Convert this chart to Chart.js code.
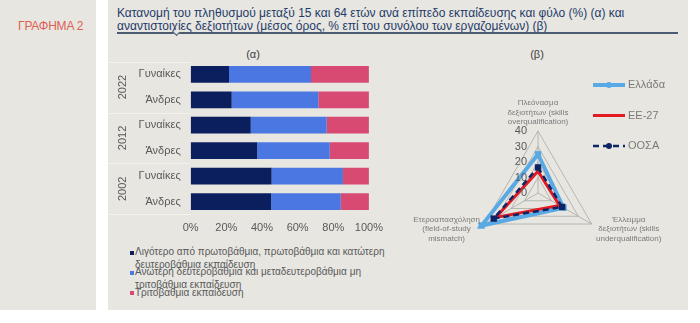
<!DOCTYPE html>
<html>
<head>
<meta charset="utf-8">
<script src="https://cdn.jsdelivr.net/npm/chart.js@4.4.1/dist/chart.umd.min.js"></script>
<style>
  body { margin: 0; width: 700px; height: 323px; background: #fff; position: relative; overflow: hidden;
         font-family: 'Liberation Sans', Arial, sans-serif; }
  .panel { position: absolute; top: 0; height: 310px; background: #e7e6e1; }
  .tag { position: absolute; left: 18px; top: 19px; font-size: 12px; color: #df5f52; letter-spacing: -0.2px; }
  .title { position: absolute; left: 117px; top: 7px; font-size: 12px; line-height: 13.4px; color: #1f3b69; white-space: nowrap; }
  .rule { position: absolute; left: 117px; top: 32px; width: 561px; border-top: 2px solid #4b5b72; }
  .notch { position: absolute; left: 174px; top: 30px; width: 4px; height: 4px; border-right: 1.5px solid #4b5b72;
           border-bottom: 1.5px solid #4b5b72; transform: rotate(45deg); background: #e7e6e1; }
  .sub { position: absolute; top: 48px; font-size: 11px; color: #404040; transform: translateX(-50%); }
  canvas { position: absolute; }
  #barLegend { position: absolute; left: 130px; top: 246px; width: 260px; }
  .item { position: absolute; left: 0; width: 256px; font-size: 10px; line-height: 12.6px; color: #595959; padding-left: 5px; }
  .item i { position: absolute; left: 0; top: 4.5px; width: 4px; height: 4px; }
</style>
</head>
<body>
<div class="panel" style="left:0;width:96px"></div>
<div class="panel" style="left:108px;width:580px"></div>
<div class="tag">ΓΡΑΦΗΜΑ 2</div>
<div class="title">Κατανομή του πληθυσμού μεταξύ 15 και 64 ετών ανά επίπεδο εκπαίδευσης και φύλο (%) (α) και<br>αναντιστοιχίες δεξιοτήτων (μέσος όρος, % επί του συνόλου των εργαζομένων) (β)</div>
<div class="rule"></div>
<div class="notch"></div>
<div class="sub" style="left:253px">(α)</div>
<div class="sub" style="left:537px">(β)</div>

<canvas id="bars" width="283" height="200" style="left:107px;top:45px"></canvas>
<div id="barLegend"></div>
<canvas id="radar" width="295" height="262" style="left:395px;top:45px"></canvas>

<script>
// (α) population 15-64 by education level and sex, %
const years = ['2022', '2012', '2002'];
const sexes = ['Γυναίκες', 'Άνδρες'];
const eduLevels = [
  'Λιγότερο από πρωτοβάθμια, πρωτοβάθμια και κατώτερη δευτεροβάθμια εκπαίδευση',
  'Ανώτερη δευτεροβάθμια και μεταδευτεροβάθμια μη τριτοβάθμια εκπαίδευση',
  'Τριτοβάθμια εκπαίδευση'
];
const lowEdu = [21.5, 23.0, 33.7, 37.3, 45.4, 45.1];
const midEdu = [46.0, 48.6, 42.6, 40.7, 40.0, 39.1];
const highEdu = [32.5, 28.4, 23.7, 22.0, 14.6, 15.8];
const pctTicks = [0, 20, 40, 60, 80, 100];

// (β) skills mismatch, average % of employed
const mismatchAxes = [
  ['Πλεόνασμα', 'δεξιοτήτων (skills', 'overqualification)'],
  ['Έλλειμμα', 'δεξιοτήτων (skills', 'underqualification)'],
  ['Ετεροαπασχόληση', '(field-of-study', 'mismatch)']
];
const mismatchTicks = [0, 10, 20, 30, 40];
const regions = ['Ελλάδα', 'ΕΕ-27', 'ΟΟΣΑ'];
const greece = [25, 19, 42];
const eu27 = [14, 16, 31.5];
const oecd = [16.5, 18, 33];

const FONT = "'Liberation Sans', Arial, sans-serif";
const GREY = '#595959';
const eduColors = ['#0b1f5e', '#4b77e2', '#d84a72'];

const rowLabels = years.flatMap(() => sexes);

// year captions down the left side, with faint separators between groups
const yearGroups = {
  id: 'yearGroups',
  afterDraw(chart) {
    const { ctx, chartArea } = chart;
    const y = chart.scales.y;
    const step = y.getPixelForValue(1) - y.getPixelForValue(0);
    ctx.save();
    ctx.strokeStyle = '#f3f2ee';
    ctx.lineWidth = 1;
    ctx.fillStyle = GREY;
    ctx.font = '11px ' + FONT;
    ctx.textAlign = 'center';
    ctx.textBaseline = 'middle';
    years.forEach((yr, g) => {
      const top = y.getPixelForValue(g * sexes.length) - step / 2;
      const bottom = y.getPixelForValue((g + 1) * sexes.length - 1) + step / 2;
      const edges = g === years.length - 1 ? [top, bottom] : [top];
      edges.forEach(e => {
        ctx.beginPath();
        ctx.moveTo(1, Math.round(e) + 0.5);
        ctx.lineTo(chartArea.left, Math.round(e) + 0.5);
        ctx.stroke();
      });
      ctx.save();
      ctx.translate(16, (top + bottom) / 2);
      ctx.rotate(-Math.PI / 2);
      ctx.fillText(yr, 0, 0);
      ctx.restore();
    });
    ctx.restore();
  }
};

new Chart(document.getElementById('bars'), {
  type: 'bar',
  data: {
    labels: rowLabels,
    datasets: [lowEdu, midEdu, highEdu].map((d, i) => ({
      label: eduLevels[i],
      data: d,
      backgroundColor: eduColors[i],
      borderWidth: 0,
      categoryPercentage: 1,
      barPercentage: 0.66
    }))
  },
  options: {
    indexAxis: 'y',
    responsive: false,
    animation: false,
    layout: { padding: { top: 14.5, bottom: 3.5, left: 0, right: 19.7 } },
    plugins: { legend: { display: false }, tooltip: { enabled: false } },
    scales: {
      x: {
        stacked: true, min: 0, max: 100,
        afterBuildTicks: s => { s.ticks = pctTicks.map(v => ({ value: v })); },
        grid: { display: false, drawTicks: false },
        border: { display: false },
        ticks: { padding: 7, color: GREY, font: { family: FONT, size: 11 }, callback: v => v + '%' }
      },
      y: {
        stacked: true,
        afterFit: s => { s.width = 83.7; },
        grid: { display: false, drawTicks: false },
        border: { display: false },
        ticks: { padding: 10, color: GREY, font: { family: FONT, size: 11 } }
      }
    }
  },
  plugins: [yearGroups]
});

// wrapped legend under the bars
const legendBox = document.getElementById('barLegend');
eduLevels.forEach((name, i) => {
  const el = document.createElement('div');
  el.className = 'item';
  el.style.top = (i * 20.3) + 'px';
  el.innerHTML = '<i style="background:' + eduColors[i] + '"></i>' + name;
  legendBox.appendChild(el);
});

// tick numbers to the left of the top spoke, axis captions and the series key
const radarExtras = {
  id: 'radarExtras',
  afterDraw(chart) {
    const { ctx } = chart;
    const r = chart.scales.r;
    ctx.save();
    ctx.fillStyle = GREY;
    ctx.font = '11px ' + FONT;
    ctx.textAlign = 'right';
    ctx.textBaseline = 'middle';
    r.ticks.forEach(t => {
      ctx.fillText(String(t.value), r.xCenter - 11, r.yCenter - r.getDistanceFromCenterForValue(t.value));
    });

    ctx.font = '8px ' + FONT;
    ctx.fillStyle = '#7a7a7a';
    ctx.textAlign = 'center';
    const lh = 9.7;
    chart.data.labels.forEach((lines, i) => {
      const p = r.getPointPosition(i, r.drawingArea + 5);
      const w = Math.max(...lines.map(l => ctx.measureText(l).width));
      let cx = p.x, top;
      if (i === 0) {
        top = p.y - lh * lines.length + 1;
      } else {
        cx = i === 1 ? p.x + w / 2 : p.x - w / 2;
        top = p.y - 12;
      }
      lines.forEach((l, k) => ctx.fillText(l, cx, top + lh * k + lh / 2));
    });

    ctx.font = '11px ' + FONT;
    ctx.textAlign = 'left';
    chart.data.datasets.forEach((ds, i) => {
      const yy = 40 + i * 30.5;
      ctx.strokeStyle = ds.borderColor;
      ctx.lineWidth = ds.borderWidth;
      ctx.setLineDash(ds.borderDash || []);
      ctx.beginPath();
      ctx.moveTo(198, yy);
      ctx.lineTo(230, yy);
      ctx.stroke();
      ctx.setLineDash([]);
      if (ds.pointRadius) {
        ctx.fillStyle = ds.pointBackgroundColor;
        ctx.beginPath();
        ctx.arc(214, yy, 3, 0, Math.PI * 2);
        ctx.fill();
      }
      ctx.fillStyle = '#7a7a7a';
      ctx.fillText(ds.label, 233, yy);
    });
    ctx.restore();
  }
};

new Chart(document.getElementById('radar'), {
  type: 'radar',
  data: {
    labels: mismatchAxes,
    datasets: [
      { label: regions[0], data: greece, order: 3, borderColor: '#59a9e5', borderWidth: 4,
        pointStyle: 'rect', pointRadius: 4.5, pointBackgroundColor: '#59a9e5', pointBorderWidth: 0 },
      { label: regions[1], data: eu27, order: 2, borderColor: '#e21b22', borderWidth: 3, pointRadius: 0 },
      { label: regions[2], data: oecd, order: 1, borderColor: '#0d2567', borderWidth: 2.5, borderDash: [6, 4],
        pointStyle: 'rect', pointRadius: 4.5, pointBackgroundColor: '#0d2567', pointBorderWidth: 0 }
    ].map(d => Object.assign({ fill: false, tension: 0, clip: false }, d))
  },
  options: {
    responsive: false,
    animation: false,
    layout: { padding: { left: 81, top: 86, right: 90, bottom: 52 } },
    plugins: { legend: { display: false }, tooltip: { enabled: false } },
    scales: {
      r: {
        min: mismatchTicks[0],
        max: mismatchTicks[mismatchTicks.length - 1],
        ticks: { stepSize: 10, display: false },
        pointLabels: { display: false },
        grid: { color: '#a9a9a6', lineWidth: 0.8 },
        angleLines: { color: '#a9a9a6', lineWidth: 0.8 }
      }
    }
  },
  plugins: [radarExtras]
});
</script>
</body>
</html>
